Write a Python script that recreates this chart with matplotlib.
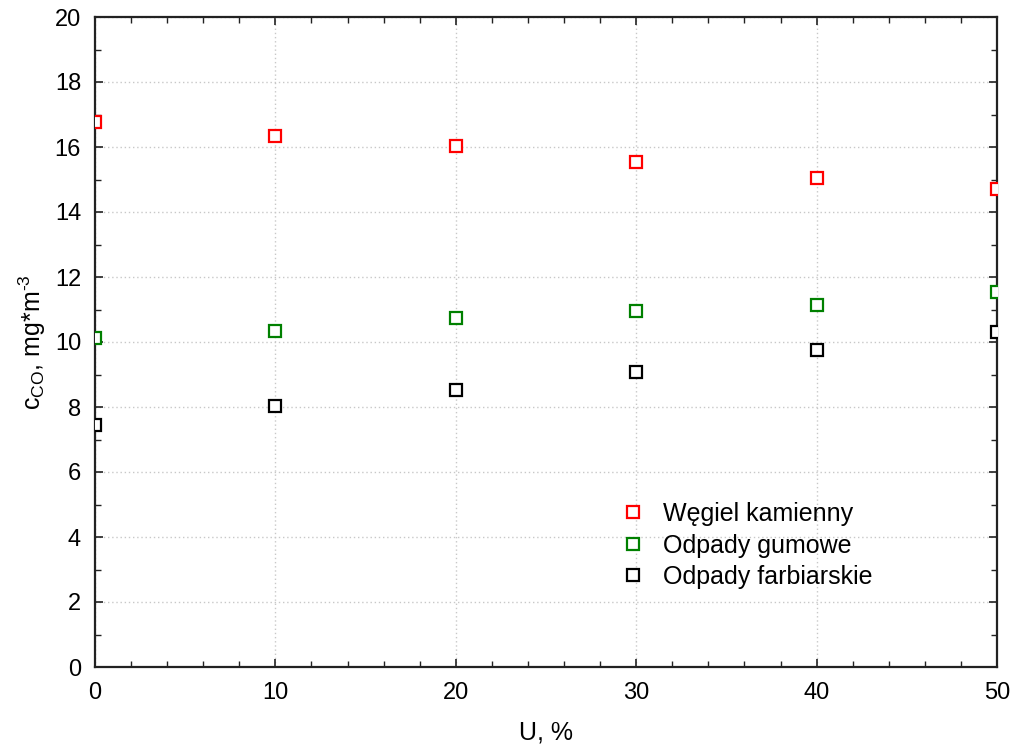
import matplotlib
matplotlib.use("Agg")
import matplotlib.pyplot as plt
from matplotlib.ticker import MultipleLocator

plt.rcParams['font.family'] = ['Liberation Sans', 'DejaVu Sans']
plt.rcParams['mathtext.fontset'] = 'custom'
plt.rcParams['mathtext.rm'] = 'Liberation Sans'
plt.rcParams['mathtext.it'] = 'Liberation Sans:italic'

# Data
u_percent = [0, 10, 20, 30, 40, 50]
wegiel_kamienny = [16.77, 16.34, 16.03, 15.54, 15.05, 14.71]
odpady_gumowe = [10.12, 10.34, 10.74, 10.95, 11.14, 11.54]
odpady_farbiarskie = [7.45, 8.03, 8.52, 9.08, 9.75, 10.31]

series = [
    ("Węgiel kamienny", wegiel_kamienny, "#ff0000"),
    ("Odpady gumowe", odpady_gumowe, "#008000"),
    ("Odpady farbiarskie", odpady_farbiarskie, "#000000"),
]

fig = plt.figure(figsize=(10.15, 7.47), dpi=100)
ax = fig.add_axes([95 / 1015, 1 - 667 / 747, (997 - 95) / 1015, (667 - 17) / 747])

for label, vals, color in series:
    ax.plot(u_percent, vals, linestyle='none', marker='s', markersize=8.5,
            markerfacecolor='white', markeredgecolor=color, markeredgewidth=1.6,
            label=label, zorder=3)

ax.set_xlim(0, 50)
ax.set_ylim(0, 20)
ax.xaxis.set_major_locator(MultipleLocator(10))
ax.xaxis.set_minor_locator(MultipleLocator(2))
ax.yaxis.set_major_locator(MultipleLocator(2))
ax.yaxis.set_minor_locator(MultipleLocator(1))

ax.tick_params(which='both', direction='in', top=True, right=True, colors='#222222',
               labelcolor='black', labelsize=17)
ax.tick_params(which='major', length=6, width=1.2)
ax.tick_params(axis='y', which='major', pad=10)
ax.tick_params(axis='x', which='major', pad=11)
ax.tick_params(which='minor', length=4, width=1.0)

ax.grid(True, which='major', linestyle=(0, (1, 2)), color='#c8c8c8', linewidth=1.0)
ax.set_axisbelow(True)

for side in ['left', 'bottom', 'top', 'right']:
    ax.spines[side].set_linewidth(1.6)
    ax.spines[side].set_color('#222222')

ax.set_xlabel('U, %', fontsize=18, labelpad=12)
ax.set_ylabel(r'c$_{\mathrm{CO}}$, mg*m$^{\text{-}3}$', fontsize=18, labelpad=5)

leg = ax.legend(loc='upper left', bbox_to_anchor=(0.571, 0.269), frameon=False,
                fontsize=18, handletextpad=0.7, labelspacing=0.3,
                borderaxespad=0, handlelength=1.0)

fig.savefig('out.png', dpi=100, facecolor='white')
